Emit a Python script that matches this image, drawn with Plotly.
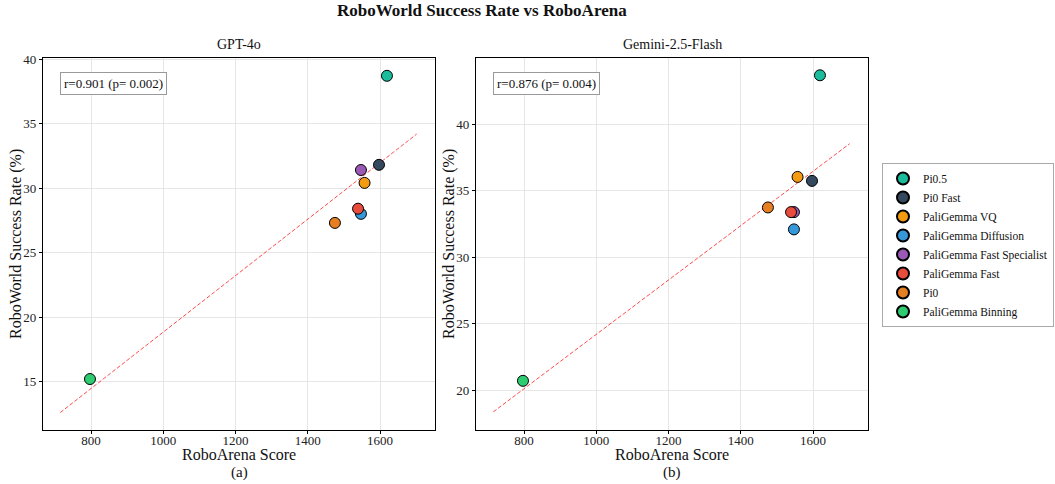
import numpy as np
import plotly.graph_objects as go

models = ["Pi0.5", "Pi0 Fast", "PaliGemma VQ", "PaliGemma Diffusion",
          "PaliGemma Fast Specialist", "PaliGemma Fast", "Pi0", "PaliGemma Binning"]
colors = ["#1abc9c", "#34495e", "#f39c12", "#3498db", "#9b59b6", "#e74c3c", "#e67e22", "#2ecc71"]
roboarena = [1619, 1597, 1557, 1547, 1547, 1539, 1475, 797]
gpt4o = [38.7, 31.8, 30.4, 28.0, 31.4, 28.4, 27.3, 15.2]
gemini = [43.7, 35.75, 36.05, 32.1, 33.4, 33.4, 33.75, 20.7]
stats = ["r=0.901 (p= 0.002)", "r=0.876 (p= 0.004)"]
titles = ["GPT-4o", "Gemini-2.5-Flash"]
subs = ["(a)", "(b)"]

W, H = 1055, 484
FONT = "Liberation Serif"

fig = go.Figure()

panels = [
    dict(ys=gpt4o, x0=43, x1=435, yr=[11.25, 40.08], yt=[15, 20, 25, 30, 35, 40]),
    dict(ys=gemini, x0=476, x1=868, yr=[17.0, 45.0], yt=[20, 25, 30, 35, 40]),
]
ytop, ybot = 58, 430

def ann(text, xpx, ypx, size, angle=0, **kw):
    fig.add_annotation(text=text, xref="paper", yref="paper", x=xpx / W, y=1 - ypx / H,
                       showarrow=False, xanchor="center", yanchor="middle", textangle=angle,
                       font=dict(family=FONT, size=size, color="#111"), **kw)

for k, p in enumerate(panels):
    xa = "x" if k == 0 else "x2"
    ya = "y" if k == 0 else "y2"
    xs = np.array(roboarena, float)
    ys = np.array(p["ys"], float)
    m, b = np.polyfit(xs, ys, 1)
    span = xs.max() - xs.min()
    lx = np.linspace(xs.min() - 0.1 * span, xs.max() + 0.1 * span, 50)
    fig.add_trace(go.Scatter(x=lx, y=m * lx + b, mode="lines", xaxis=xa, yaxis=ya,
                             line=dict(color="rgba(255,0,0,0.7)", width=1, dash="4px,2px"),
                             showlegend=False, hoverinfo="skip"))
    for i, name in enumerate(models):
        fig.add_trace(go.Scatter(x=[roboarena[i]], y=[p["ys"][i]], mode="markers",
                                 xaxis=xa, yaxis=ya, name=name, legendgroup=name,
                                 showlegend=(k == 0),
                                 marker=dict(size=11, color=colors[i],
                                             line=dict(color="black", width=1))))
    axis_common = dict(showline=True, linecolor="black", linewidth=1.2, mirror=True,
                       showgrid=True, gridcolor="#e6e6e6", gridwidth=1, zeroline=False,
                       ticks="outside", ticklen=3, tickcolor="black", automargin=False,
                       tickfont=dict(family=FONT, size=13, color="#222"))
    xkey = "xaxis" if k == 0 else "xaxis2"
    ykey = "yaxis" if k == 0 else "yaxis2"
    fig.update_layout(**{
        xkey: dict(axis_common, domain=[p["x0"] / W, p["x1"] / W], range=[667, 1752],
                   tickvals=[800, 1000, 1200, 1400, 1600], anchor=ya),
        ykey: dict(axis_common, domain=[1 - ybot / H, 1 - ytop / H], range=p["yr"],
                   tickvals=p["yt"], anchor=xa),
    })
    cx = (p["x0"] + p["x1"]) / 2
    ann(titles[k], cx, 45, 14)
    ann("RoboArena Score", cx, 454, 16)
    ann(subs[k], cx, 472, 15)
    ann("RoboWorld Success Rate (%)", p["x0"] - 27, (ytop + ybot) / 2, 16, angle=-90)
    fig.add_annotation(text=stats[k], xref="paper", yref="paper",
                       x=(p["x0"] + 17) / W, y=1 - 83 / H, showarrow=False,
                       xanchor="left", yanchor="middle",
                       bordercolor="#999", borderwidth=1, borderpad=3, bgcolor="white",
                       font=dict(family=FONT, size=13, color="#111"))

try:
    fig.update_xaxes(ticklabelstandoff=-5)
except Exception:
    pass

ann("<b>RoboWorld Success Rate vs RoboArena</b>", 482, 11, 17)

fig.update_layout(
    width=W, height=H, margin=dict(l=0, r=0, t=0, b=0),
    paper_bgcolor="white", plot_bgcolor="white",
    font=dict(family=FONT, color="#111"),
    legend=dict(x=1 - 1 / W, y=1 - 245 / H, xanchor="right", yanchor="middle",
                bordercolor="#aaa", borderwidth=1, bgcolor="white",
                font=dict(family=FONT, size=11.5, color="#111"),
                tracegroupgap=0, itemsizing="constant"),
)

fig.write_html("out.html")
